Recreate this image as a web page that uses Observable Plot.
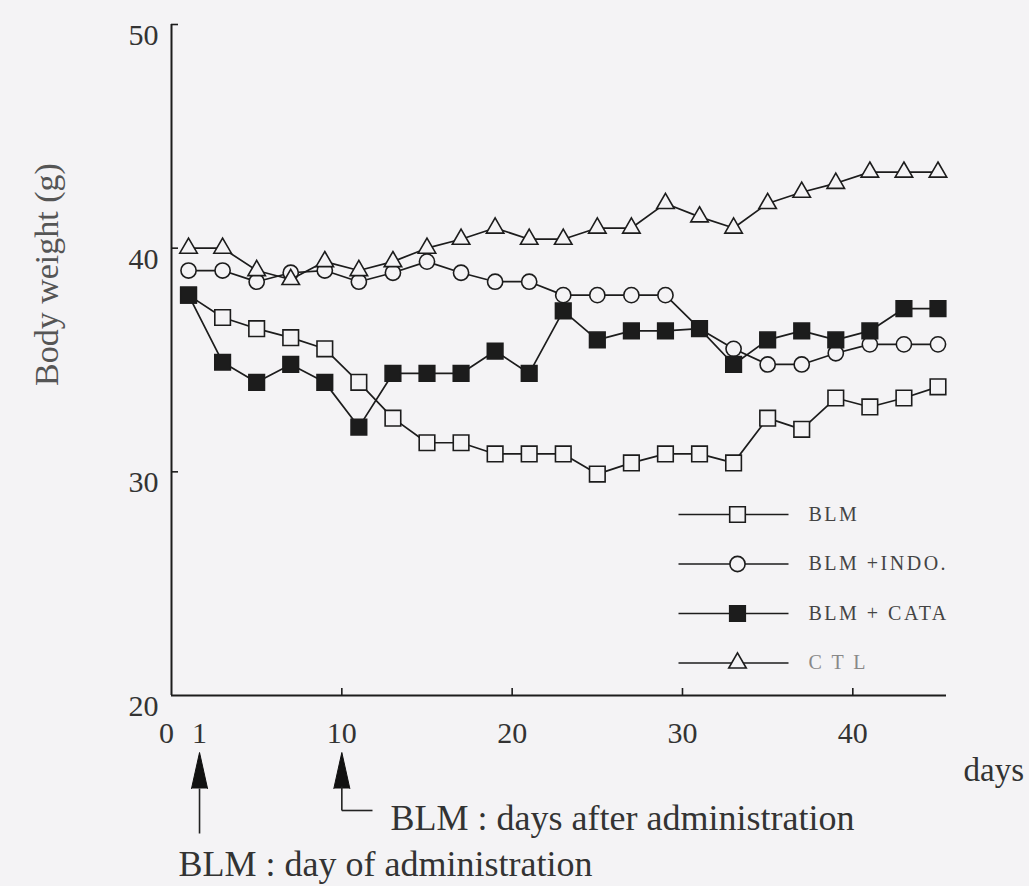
<!DOCTYPE html>
<html>
<head>
<meta charset="utf-8">
<script src="https://cdn.jsdelivr.net/npm/d3@7"></script>
<script src="https://cdn.jsdelivr.net/npm/@observablehq/plot@0.6"></script>
<style>
  html, body { margin: 0; padding: 0; background: #f4f3f5; }
  #chart svg { display: block; }
</style>
</head>
<body>
<div id="chart"></div>
<script>
// ---------------- data ----------------
const days = [1, 3, 5, 7, 9, 11, 13, 15, 17, 19, 21, 23, 25, 27, 29, 31, 33, 35, 37, 39, 41, 43, 45];
const blm      = [37.9, 36.9, 36.4, 36.0, 35.5, 34.0, 32.4, 31.3, 31.3, 30.8, 30.8, 30.8, 29.9, 30.4, 30.8, 30.8, 30.4, 32.4, 31.9, 33.3, 32.9, 33.3, 33.8];
const blmIndo  = [39.0, 39.0, 38.5, 38.9, 39.0, 38.5, 38.9, 39.4, 38.9, 38.5, 38.5, 37.9, 37.9, 37.9, 37.9, 36.4, 35.5, 34.8, 34.8, 35.3, 35.7, 35.7, 35.7];
const blmCata  = [37.9, 34.9, 34.0, 34.8, 34.0, 32.0, 34.4, 34.4, 34.4, 35.4, 34.4, 37.2, 35.9, 36.3, 36.3, 36.4, 34.8, 35.9, 36.3, 35.9, 36.3, 37.3, 37.3];
const ctl      = [40.0, 40.0, 39.0, 38.6, 39.4, 39.0, 39.4, 40.0, 40.4, 40.9, 40.4, 40.4, 40.9, 40.9, 42.0, 41.4, 40.9, 42.0, 42.5, 42.9, 43.4, 43.4, 43.4];
const seriesNames = ["BLM", "BLM +INDO.", "BLM + CATA", "C T L"];
const xTicks = [10, 20, 30, 40];
const yTicks = [20, 30, 40, 50];
const adminDays = [1, 10];
const annotationTexts = ["BLM : day of administration", "BLM : days after administration"];

// ---------------- layout ----------------
const W = 1029, H = 886;
const mL = 171, mR = 83, mT = 24, mB = 191;
const xMax = 45.5;
const bg = "#f4f3f5";
const ink = "#1c1c1c";
const font = "Liberation Serif, Times New Roman, serif";

// pixel helpers for annotation placement (outside the frame)
const xAt = px => (px - mL) * xMax / (W - mL - mR);
const yAt = py => yTicks[0] + (H - mB - py) * (yTicks[3] - yTicks[0]) / (H - mT - mB);

const seriesValues = [blm, blmIndo, blmCata, ctl];
const symbols = ["square", "circle", "square", "triangle"];
const fills = [bg, bg, ink, bg];
const radii = [8.8, 7.6, 8.8, 6.5];

const table = [];
seriesNames.forEach((name, s) => {
  days.forEach((d, i) => table.push({series: name, s, day: d, w: seriesValues[s][i]}));
});

const marks = [];

// axes lines
marks.push(Plot.ruleX([0], {y1: yTicks[0], y2: yTicks[3], stroke: ink, strokeWidth: 2}));
marks.push(Plot.ruleY([yTicks[0]], {x1: 0, x2: xMax, stroke: ink, strokeWidth: 2}));
// inward ticks
marks.push(Plot.ruleX(xTicks, {insetTop: (H - mT - mB) - 7, stroke: ink, strokeWidth: 1.6}));
marks.push(Plot.ruleY(yTicks.slice(1), {insetRight: (W - mL - mR) - 7, stroke: ink, strokeWidth: 1.6}));

// tick labels
marks.push(Plot.text(yTicks, {x: 0, y: d => d, text: d => String(d), dx: -13, dy: 11, textAnchor: "end",
  fontSize: 30, fontFamily: font, fill: "#333"}));
marks.push(Plot.text(xTicks, {x: d => d, y: yTicks[0], text: d => String(d), dy: 38,
  fontSize: 30, fontFamily: font, fill: "#333"}));
marks.push(Plot.text([0], {x: d => d, y: yTicks[0], text: d => String(d), dy: 38, dx: -5,
  fontSize: 30, fontFamily: font, fill: "#333"}));
marks.push(Plot.text([1], {x: d => d, y: yTicks[0], text: d => String(d), dy: 38, dx: 11,
  fontSize: 30, fontFamily: font, fill: "#333"}));
marks.push(Plot.text(["days"], {x: xAt(963), y: yAt(770), text: d => d, textAnchor: "start",
  fontSize: 33, fontFamily: font, fill: "#333"}));
// y label
marks.push(Plot.text(["Body weight (g)"], {frameAnchor: "left", text: d => d, rotate: -90, dx: -124, dy: 26,
  fontSize: 34, fontFamily: font, fill: "#555"}));

// data series
seriesNames.forEach((name, s) => {
  const rows = table.filter(r => r.s === s);
  marks.push(Plot.line(rows, {x: "day", y: "w", stroke: ink, strokeWidth: 1.7}));
  marks.push(Plot.dot(rows, {x: "day", y: "w", symbol: symbols[s], r: radii[s], fill: fills[s], stroke: ink, strokeWidth: 1.6}));
});

// legend
const legendRows = seriesNames.map((name, i) => ({name, i, y: yAt(514 + i * 49.5)}));
marks.push(Plot.link(legendRows, {x1: xAt(678), x2: xAt(788), y1: "y", y2: "y", stroke: ink, strokeWidth: 1.6}));
legendRows.forEach(r => {
  marks.push(Plot.dot([r], {x: xAt(737), y: "y", symbol: symbols[r.i], r: radii[r.i], fill: fills[r.i], stroke: ink, strokeWidth: 1.6}));
});
marks.push(Plot.text(legendRows, {x: xAt(808), y: "y", text: "name", textAnchor: "start",
  fontSize: 20, fontFamily: font, fill: d => d.i === 3 ? "#888" : "#444"}));

// annotations: arrows at administration days
const arrowDx = [11, 0];
adminDays.forEach((d, i) => {
  marks.push(Plot.vector([d], {x: v => v, y: yAt(788), length: 36, r: 8, rotate: 0, anchor: "start",
    shape: "spike", fill: "#111", stroke: "#111", strokeWidth: 1, dx: arrowDx[i]}));
});
marks.push(Plot.link([adminDays[0]], {x1: d => d, x2: d => d, y1: yAt(788), y2: yAt(833), stroke: "#222", strokeWidth: 1.6, dx: arrowDx[0]}));
marks.push(Plot.link([adminDays[1]], {x1: d => d, x2: d => d, y1: yAt(786), y2: yAt(810), stroke: "#222", strokeWidth: 1.6}));
marks.push(Plot.link([adminDays[1]], {x1: d => d, x2: xAt(372), y1: yAt(810), y2: yAt(810), stroke: "#222", strokeWidth: 1.6}));
marks.push(Plot.text([annotationTexts[1]], {x: xAt(390), y: yAt(818), text: d => d, textAnchor: "start",
  fontSize: 36, fontFamily: font, fill: "#333"}));
marks.push(Plot.text([annotationTexts[0]], {x: xAt(178), y: yAt(864), text: d => d, textAnchor: "start",
  fontSize: 36, fontFamily: font, fill: "#333"}));

const plot = Plot.plot({
  width: W, height: H,
  marginLeft: mL, marginRight: mR, marginTop: mT, marginBottom: mB,
  x: {domain: [0, xMax], axis: null},
  y: {domain: [yTicks[0], yTicks[3]], axis: null},
  style: {background: bg, overflow: "visible"},
  marks
});
d3.select(plot).selectAll("text")
  .filter(function() { return seriesNames.includes(this.textContent); })
  .style("letter-spacing", "2.5px");
document.getElementById("chart").appendChild(plot);
</script>
</body>
</html>
